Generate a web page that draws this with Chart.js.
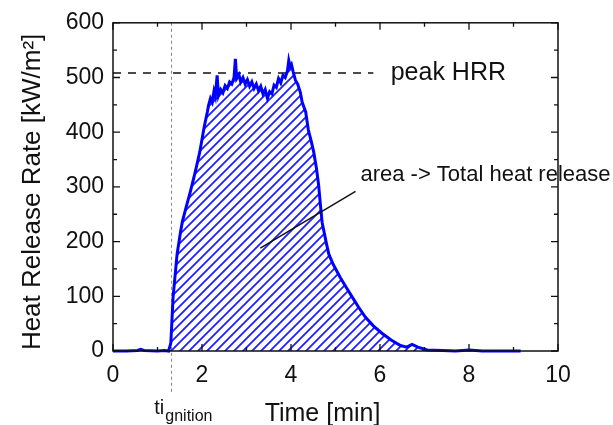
<!DOCTYPE html>
<html>
<head>
<meta charset="utf-8">
<script src="https://cdn.jsdelivr.net/npm/chart.js@4/dist/chart.umd.min.js"></script>
<style>
  html, body { margin: 0; padding: 0; background: #ffffff; }
  #wrap { width: 613px; height: 425px; }
</style>
</head>
<body>
<div id="wrap"><canvas id="c" width="613" height="425"></canvas></div>
<script>
// ---- data ----
const timeMin = [0, 0.3, 0.55, 0.62, 0.7, 1.0, 1.15, 1.25, 1.3, 1.35, 1.44, 1.52, 1.56, 1.65, 1.74, 1.85, 1.95, 2.05, 2.12, 2.15, 2.19, 2.23, 2.27, 2.3, 2.34, 2.37, 2.42, 2.47, 2.52, 2.57, 2.62, 2.67, 2.72, 2.75, 2.78, 2.83, 2.87, 2.92, 2.97, 3.02, 3.07, 3.12, 3.17, 3.22, 3.27, 3.32, 3.37, 3.42, 3.47, 3.52, 3.57, 3.62, 3.67, 3.72, 3.77, 3.82, 3.87, 3.92, 3.95, 3.98, 4.01, 4.05, 4.1, 4.15, 4.21, 4.25, 4.33, 4.39, 4.45, 4.51, 4.57, 4.62, 4.66, 4.70, 4.74, 4.80, 4.85, 4.95, 5.11, 5.25, 5.38, 5.52, 5.67, 5.85, 6.05, 6.25, 6.46, 6.6, 6.72, 6.85, 7.06, 7.4, 7.7, 8.0, 8.3, 8.7, 9.16];
const hrr = [0, 0, 1, 3, 1, 0, 1, 0, 15, 98, 177, 219, 237, 265, 292, 328, 364, 410, 437, 450, 462, 455, 475, 466, 504, 467, 478, 472, 485, 480, 492, 488, 500, 534, 498, 505, 492, 500, 488, 496, 484, 492, 480, 488, 476, 484, 470, 478, 462, 474, 470, 486, 482, 498, 490, 504, 500, 512, 531, 520, 524, 510, 495, 488, 473, 455, 437, 404, 385, 364, 335, 304, 268, 235, 219, 195, 177, 158, 134, 115, 98, 80, 62, 46, 32, 20, 10, 7, 12, 7, 2, 1, 0, 2, 0, 0, 0];
const xRange = [0, 10];
const yRange = [0, 600];
const xStep = 2;
const yStep = 100;
const xMinorStep = 1;
const yMinorStep = 50;
const tIgnition = 1.31;
const peakHRR = 508;
const peakLineEnd = 5.85;
const xTitle = "Time [min]";
const yTitle = "Heat Release Rate [kW/m\u00B2]";
const peakLabel = "peak HRR";
const peakLabelPos = [6.24, 496];
const areaLabel = "area -> Total heat release";
const areaLabelPos = [5.56, 310];
const areaArrow = [[5.45, 292], [3.31, 188]];
const ignMain = "ti";
const ignSub = "gnition";

const points = timeMin.map((t, i) => ({ x: t, y: hrr[i] }));

const canvas = document.getElementById('c');
const ctx0 = canvas.getContext('2d');

function makeHatch() {
  const c = document.createElement('canvas');
  c.width = 9; c.height = 9;
  const g = c.getContext('2d');
  g.strokeStyle = '#1f1fff';
  g.lineWidth = 1.8;
  g.beginPath();
  g.moveTo(-1, 10); g.lineTo(10, -1);
  g.moveTo(-1, 1); g.lineTo(1, -1);
  g.moveTo(8, 10); g.lineTo(10, 8);
  g.stroke();
  return ctx0.createPattern(c, 'repeat');
}
const hatch = makeHatch();

const FONT = "'Liberation Sans', Arial, sans-serif";

const decor = {
  id: 'decor',
  beforeDatasetsDraw(chart) {
    const { ctx, scales: { x, y }, chartArea } = chart;
    ctx.save();
    ctx.strokeStyle = '#8a8a8a';
    ctx.lineWidth = 1;
    ctx.setLineDash([3, 3]);
    const px = Math.round(x.getPixelForValue(tIgnition)) + 0.5;
    ctx.beginPath();
    ctx.moveTo(px, chartArea.top);
    ctx.lineTo(px, chartArea.bottom + 42);
    ctx.stroke();
    // peak line
    ctx.strokeStyle = '#111';
    ctx.lineWidth = 1.5;
    ctx.setLineDash([8, 7]);
    const py = y.getPixelForValue(peakHRR);
    ctx.beginPath();
    ctx.moveTo(x.getPixelForValue(0), py);
    ctx.lineTo(x.getPixelForValue(peakLineEnd), py);
    ctx.stroke();
    ctx.restore();
  },
  afterDraw(chart) {
    const { ctx, scales: { x, y }, chartArea } = chart;
    ctx.save();
    // frame
    ctx.strokeStyle = '#111';
    ctx.lineWidth = 1.5;
    ctx.strokeRect(chartArea.left, chartArea.top, chartArea.right - chartArea.left, chartArea.bottom - chartArea.top);
    // ticks, inward on all sides
    ctx.lineWidth = 1.3;
    ctx.beginPath();
    for (let v = xRange[0]; v <= xRange[1] + 1e-9; v += xMinorStep) {
      const p = x.getPixelForValue(v);
      const len = (Math.abs(v % xStep) < 1e-9) ? 7 : 4;
      ctx.moveTo(p, chartArea.bottom); ctx.lineTo(p, chartArea.bottom - len);
      ctx.moveTo(p, chartArea.top); ctx.lineTo(p, chartArea.top + len);
    }
    for (let v = yRange[0]; v <= yRange[1] + 1e-9; v += yMinorStep) {
      const p = y.getPixelForValue(v);
      const len = (Math.abs(v % yStep) < 1e-9) ? 7 : 4;
      ctx.moveTo(chartArea.left, p); ctx.lineTo(chartArea.left + len, p);
      ctx.moveTo(chartArea.right, p); ctx.lineTo(chartArea.right - len, p);
    }
    ctx.stroke();

    // annotation arrow line
    ctx.lineWidth = 1.5;
    ctx.beginPath();
    ctx.moveTo(x.getPixelForValue(areaArrow[0][0]), y.getPixelForValue(areaArrow[0][1]));
    ctx.lineTo(x.getPixelForValue(areaArrow[1][0]), y.getPixelForValue(areaArrow[1][1]));
    ctx.stroke();

    ctx.fillStyle = '#111';
    ctx.textBaseline = 'alphabetic';
    // peak label
    ctx.textAlign = 'left';
    ctx.font = '25px ' + FONT;
    ctx.fillText(peakLabel, x.getPixelForValue(peakLabelPos[0]), y.getPixelForValue(peakLabelPos[1]));
    // area label
    ctx.font = '22px ' + FONT;
    ctx.fillText(areaLabel, x.getPixelForValue(areaLabelPos[0]), y.getPixelForValue(areaLabelPos[1]));

    // axis titles
    ctx.font = '25px ' + FONT;
    ctx.textAlign = 'center';
    ctx.fillText(xTitle, 322.5, 420.5);
    ctx.save();
    ctx.translate(40, (chartArea.top + chartArea.bottom) / 2 + 5);
    ctx.rotate(-Math.PI / 2);
    ctx.font = '26px ' + FONT;
    ctx.fillText(yTitle, 0, 0);
    ctx.restore();

    // t_ignition label
    const ix = x.getPixelForValue(tIgnition);
    ctx.textAlign = 'left';
    ctx.font = '20px ' + FONT;
    ctx.fillText(ignMain, ix - 17, 414);
    ctx.font = '16px ' + FONT;
    ctx.fillText(ignSub, ix - 6, 421);
    ctx.restore();
  }
};

new Chart(canvas, {
  type: 'line',
  data: {
    datasets: [{
      data: points,
      borderColor: '#0000ff',
      borderWidth: 3,
      backgroundColor: hatch,
      fill: 'origin',
      pointRadius: 0,
      tension: 0,
      clip: 4
    }]
  },
  options: {
    responsive: false,
    animation: false,
    devicePixelRatio: 1,
    layout: { padding: { left: 0, right: 55, top: 20, bottom: 0 } },
    plugins: { legend: { display: false }, tooltip: { enabled: false } },
    scales: {
      x: {
        type: 'linear',
        min: xRange[0], max: xRange[1],
        grid: { display: false, drawTicks: false },
        border: { display: false },
        ticks: { stepSize: xStep, padding: 11, color: '#111', font: { family: FONT, size: 23 } },
        afterFit(s) { s.height = 74; }
      },
      y: {
        min: yRange[0], max: yRange[1],
        grid: { display: false, drawTicks: false },
        border: { display: false },
        ticks: { stepSize: yStep, padding: 9, color: '#111', font: { family: FONT, size: 23 } },
        afterFit(s) { s.width = 113; }
      }
    }
  },
  plugins: [decor]
});
</script>
</body>
</html>
